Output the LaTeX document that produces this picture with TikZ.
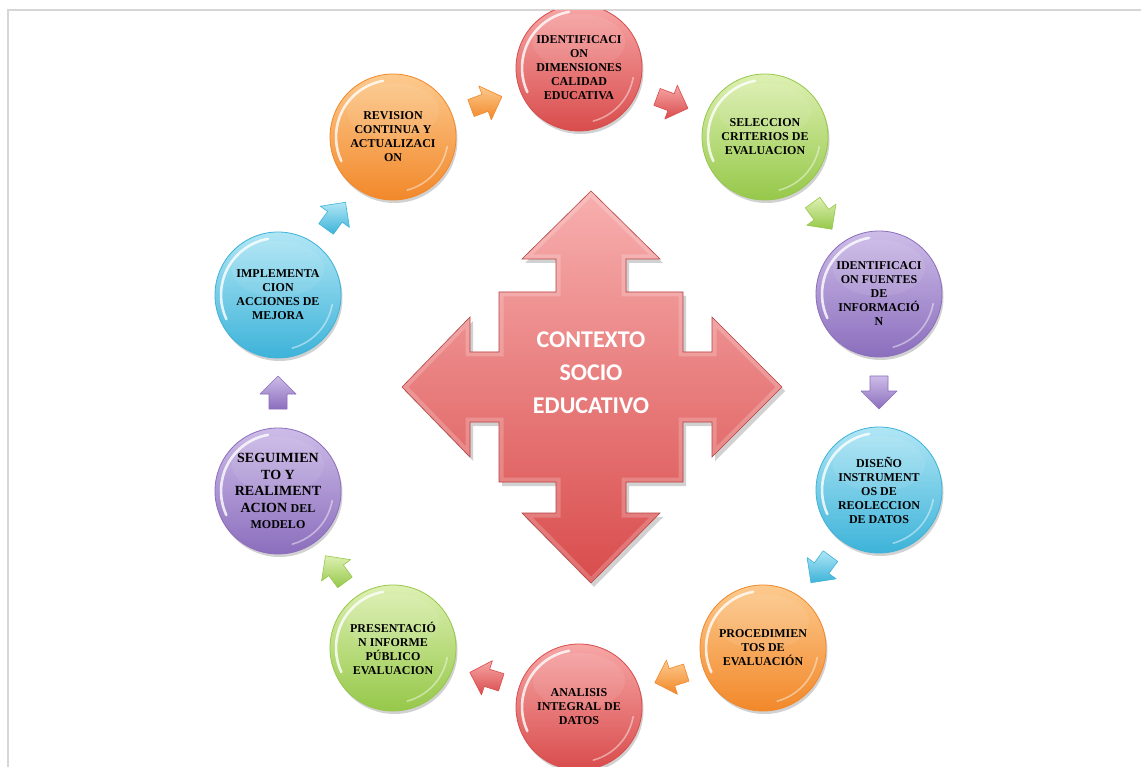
\documentclass[tikz,border=0pt]{standalone}
\usepackage{fontspec}
\setmainfont{Liberation Serif}
\newfontfamily\carl{Carlito}
\usetikzlibrary{calc,shadows}

\definecolor{redL}{HTML}{F7A6A6}
\definecolor{redD}{HTML}{D94C4C}
\definecolor{greenL}{HTML}{DDF0B2}
\definecolor{greenD}{HTML}{96C84A}
\definecolor{purpleL}{HTML}{CDBCE8}
\definecolor{purpleD}{HTML}{8B6EBD}
\definecolor{blueL}{HTML}{B0E6F5}
\definecolor{blueD}{HTML}{3DB3D9}
\definecolor{orangeL}{HTML}{FCCA8E}
\definecolor{orangeD}{HTML}{F2882A}
\definecolor{frame}{HTML}{D6D6D6}

\tikzset{
  btn/.style={circle, minimum size=126pt, inner sep=0pt, align=center,
    font=\bfseries\fontsize{12}{14}\selectfont, text=black,
    top color=#1L, bottom color=#1D, draw=#1D, line width=0.8pt,
    drop shadow={shadow xshift=1.5pt, shadow yshift=-3pt, fill=black, opacity=.18},
    path picture={
      \draw[white, opacity=.8, line width=2.6pt, line cap=round]
        ([shift={(100:57pt)}]path picture bounding box.center)
        arc[start angle=100, end angle=205, radius=57pt];
      \draw[white, opacity=.45, line width=1.6pt, line cap=round]
        ([shift={(-75:55pt)}]path picture bounding box.center)
        arc[start angle=-75, end angle=-10, radius=55pt];
      \fill[white, opacity=.08]
        ([yshift=26pt]path picture bounding box.center) ellipse[x radius=46pt, y radius=28pt];
    }},
  pics/barr/.style={code={
    \shade[top color=#1L, bottom color=#1D, draw=#1D, line width=.6pt, line join=round]
      (-16,-9) -- (-1,-9) -- (-1,-18) -- (17,0) -- (-1,18) -- (-1,9) -- (-16,9) -- cycle;
  }},
  ctext/.style={text=white, align=center, font=\carl\bfseries\fontsize{24}{33}\selectfont},
}

\newcommand\linkarrow[3]{%
  \path let \p1=(#1), \p2=(#2), \n1={atan2(\y2-\y1,\x2-\x1)} in
    pic[rotate=\n1] at ($(#1)!.5!(#2)$) {barr=#3};}

\newcommand\crossshape{(0,-196) -- (69,-128) -- (35,-128) -- (35,-95) -- (92,-95) -- (92,-35) -- (121,-35) -- (121,-70) -- (191,0) -- (121,70) -- (121,35) -- (92,35) -- (92,95) -- (35,95) -- (35,126) -- (69,126) -- (0,196) -- (-69,126) -- (-35,126) -- (-35,95) -- (-92,95) -- (-92,35) -- (-121,35) -- (-121,70) -- (-189,0) -- (-121,-70) -- (-121,-35) -- (-92,-35) -- (-92,-95) -- (-35,-95) -- (-35,-128) -- (-69,-128) -- cycle}

\begin{document}
\begin{tikzpicture}[x=1pt,y=-1pt]
\useasboundingbox (0,0) rectangle (1141,767);
\fill[white] (0,0) rectangle (1141,767);
\draw[frame, line width=1.6pt] (8,767) -- (8,10) -- (1141,10);

\begin{scope}
\clip (9,11) rectangle (1141,767);

% central cross
\begin{scope}[shift={(591,387)}]
  \fill[black, opacity=.18] [shift={(3,4)}] \crossshape;
  \shade[top color=redL!90!white, bottom color=redD] \crossshape;
  \begin{scope}
    \clip \crossshape;
    \draw[white, opacity=.2, line width=9pt, line join=miter] \crossshape;
  \end{scope}
  \draw[redD!85!black, line width=.6pt, line join=miter] \crossshape;
\end{scope}
\node[ctext] (ctx) at (591,373) {CONTEXTO\\SOCIO\\EDUCATIVO};

% circles
\node[btn=red]    (c1)  at (579,68)  {IDENTIFICACI\\ON\\DIMENSIONES\\CALIDAD\\EDUCATIVA};
\node[btn=green]  (c2)  at (765,137) {SELECCION\\CRITERIOS DE\\EVALUACION};
\node[btn=purple] (c3)  at (879,294) {IDENTIFICACI\\ON FUENTES\\DE\\INFORMACIÓ\\N};
\node[btn=blue]   (c4)  at (879,490) {DISEÑO\\INSTRUMENT\\OS DE\\REOLECCION\\DE DATOS};
\node[btn=orange] (c5)  at (763,648) {PROCEDIMIEN\\TOS DE\\EVALUACIÓN};
\node[btn=red]    (c6)  at (579,707) {ANALISIS\\INTEGRAL DE\\DATOS};
\node[btn=green]  (c7)  at (393,648) {PRESENTACIÓ\\N INFORME\\PÚBLICO\\EVALUACION};
\node[btn=purple, font=\bfseries\fontsize{14}{16.5}\selectfont] (c8) at (278,491)
  {SEGUIMIEN\\TO Y\\REALIMENT\\ACION {\fontsize{12}{14}\selectfont DEL}\\{\fontsize{12}{14}\selectfont MODELO}};
\node[btn=blue]   (c9)  at (278,295) {IMPLEMENTA\\CION\\ACCIONES DE\\MEJORA};
\node[btn=orange] (c10) at (393,137) {REVISION\\CONTINUA Y\\ACTUALIZACI\\ON};

% connecting block arrows
\linkarrow{c10}{c1}{orange}
\linkarrow{c1}{c2}{red}
\linkarrow{c2}{c3}{green}
\linkarrow{c3}{c4}{purple}
\linkarrow{c4}{c5}{blue}
\linkarrow{c5}{c6}{orange}
\linkarrow{c6}{c7}{red}
\linkarrow{c7}{c8}{green}
\linkarrow{c8}{c9}{purple}
\linkarrow{c9}{c10}{blue}
\end{scope}
\end{tikzpicture}
\end{document}
